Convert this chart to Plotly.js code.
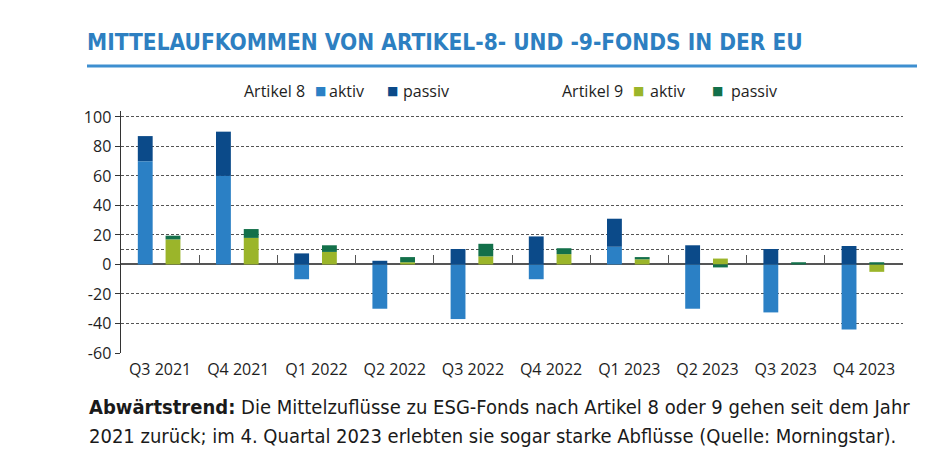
<!DOCTYPE html>
<html>
<head>
<meta charset="utf-8">
<script src="https://cdn.plot.ly/plotly-3.0.1.min.js"></script>
<style>html,body{margin:0;padding:0;background:#fff;}#chart{width:939px;height:476px;}</style>
</head>
<body>
<div id="chart"></div>
<script>
const categories = ['Q3 2021','Q4 2021','Q1 2022','Q2 2022','Q3 2022','Q4 2022','Q1 2023','Q2 2023','Q3 2023','Q4 2023'];
const art8Aktiv  = [70, 60, -10, -30, -37, -10, 12, -30, -32.5, -44];
const art8Passiv = [17, 30, 7.5, 2.5, 10.5, 19, 19, 13, 10.5, 12.5];
const art9Aktiv  = [17, 18, 8.5, 1.5, 5.5, 7, 3.5, 4, 0, -5];
const art9Passiv = [2.5, 6, 4.5, 3.5, 8.5, 4, 1.5, -2, 1.5, 1.5];
const yTicks = [-60, -40, -20, 0, 20, 40, 60, 80, 100];
const yTickText = ['-60', '-40', '-20', '0', '20', '40', '60', '80', '100'];
const groupNames = ['Artikel 8', 'Artikel 9'];
const seriesNames = ['aktiv', 'passiv'];

const yMin = -60, yMax = 104;
const FONT = '"Open Sans", "Noto Sans", sans-serif';
const NARROW = '"Liberation Sans Narrow", "DejaVu Sans Condensed", "Open Sans", sans-serif';
const col = {a8a:'#2b80c5', a8p:'#0b4a89', a9a:'#9bb52a', a9p:'#13704a'};

const barW = 0.19;
function bar(y, name, color, xa, off) {
  return {type:'bar', x:categories, y:y, name:name, xaxis:xa, yaxis:'y',
    marker:{color:color, line:{width:0}}, width:barW, offset:off, showlegend:false,
    hoverinfo:'x+y+name'};
}
const data = [
  bar(art8Aktiv, seriesNames[0], col.a8a, 'x', -0.285),
  bar(art8Passiv, seriesNames[1], col.a8p, 'x', -0.285),
  bar(art9Aktiv, seriesNames[0], col.a9a, 'x2', 0.07),
  bar(art9Passiv, seriesNames[1], col.a9p, 'x2', 0.07)
];

// pixel helpers for layout placement (plot area: x 121..903, y 111..353.3)
const px = v => (v - 121) / 782;
const py = v => (353.3 - v) / 242.3;

const legY = py(91);
function legText(x, text) {
  return {xref:'paper', yref:'paper', x:px(x), xanchor:'left', y:legY, yanchor:'middle',
    showarrow:false, text:text, font:{family:FONT, size:16, color:'#1e1e1e'}};
}
function legBox(x, color) {
  return {xref:'paper', yref:'paper', x:px(x), xanchor:'center', y:py(90.5), yanchor:'middle',
    showarrow:false, text:'■', font:{family:'"DejaVu Sans", sans-serif', size:12, color:color}};
}

const gridStyle = {gridcolor:'#555', gridwidth:1, griddash:'3px,2px'};
const layout = {
  width:939, height:476,
  margin:{l:121, r:36, t:111, b:123, pad:0},
  paper_bgcolor:'#fff', plot_bgcolor:'#fff',
  barmode:'relative',
  showlegend:false,
  font:{family:FONT, size:16, color:'#1e1e1e'},
  title:{text:'MITTELAUFKOMMEN VON ARTIKEL-8- UND -9-FONDS IN DER EU',
    font:{family:NARROW, size:22.5, color:'#2d7fc1', weight:700},
    xref:'container', yref:'container', x:87/939, xanchor:'left', y:1-42/476, yanchor:'middle'},
  xaxis:{type:'category', categoryorder:'array', categoryarray:categories, range:[-0.5, 9.5],
    showgrid:false, zeroline:false, showline:false, ticks:'', fixedrange:true, ticklabelstandoff:5,
    tickfont:{family:FONT, size:16, color:'#1e1e1e'}},
  xaxis2:{type:'category', categoryorder:'array', categoryarray:categories, range:[-0.5, 9.5],
    overlaying:'x', anchor:'free', position:(0 - yMin)/(yMax - yMin),
    showgrid:false, zeroline:false, showline:false, showticklabels:false,
    ticks:'inside', tickson:'boundaries', ticklen:9, tickwidth:1, tickcolor:'#555', fixedrange:true},
  yaxis:Object.assign({range:[yMin, yMax], tickmode:'array', tickvals:yTicks, ticktext:yTickText,
    showline:true, linecolor:'#333', linewidth:1.5,
    ticks:'outside', ticklen:5, tickcolor:'#333', tickwidth:1,
    zeroline:true, zerolinecolor:'#555', zerolinewidth:2, fixedrange:true,
    tickfont:{family:FONT, size:16, color:'#1e1e1e'},
    minor:Object.assign({tickvals:[10], showgrid:true, ticks:''}, gridStyle)}, gridStyle),
  shapes:[{type:'line', xref:'paper', yref:'paper', x0:px(87), x1:px(917),
    y0:py(66), y1:py(66), line:{color:'#3e8fd0', width:3}}],
  annotations:[
    legText(242, groupNames[0]), legBox(320, col.a8a), legText(327, seriesNames[0]),
    legBox(392, col.a8p), legText(401, seriesNames[1]),
    legText(560, groupNames[1]), legBox(638, col.a9a), legText(648, seriesNames[0]),
    legBox(717, col.a9p), legText(729, seriesNames[1]),
    {xref:'paper', yref:'paper', x:px(87), xanchor:'left', y:py(407), yanchor:'middle',
     showarrow:false, align:'left', font:{family:NARROW, size:20, color:'#1a1a1a'},
     text:'<b>Abwärtstrend:</b> Die Mittelzuflüsse zu ESG-Fonds nach Artikel 8 oder 9 gehen seit dem Jahr'},
    {xref:'paper', yref:'paper', x:px(87), xanchor:'left', y:py(436), yanchor:'middle',
     showarrow:false, align:'left', font:{family:NARROW, size:20, color:'#1a1a1a'},
     text:'2021 zurück; im 4. Quartal 2023 erlebten sie sogar starke Abflüsse (Quelle: Morningstar).'}
  ]
};
Plotly.newPlot('chart', data, layout, {displayModeBar:false, staticPlot:true});
</script>
</body>
</html>
